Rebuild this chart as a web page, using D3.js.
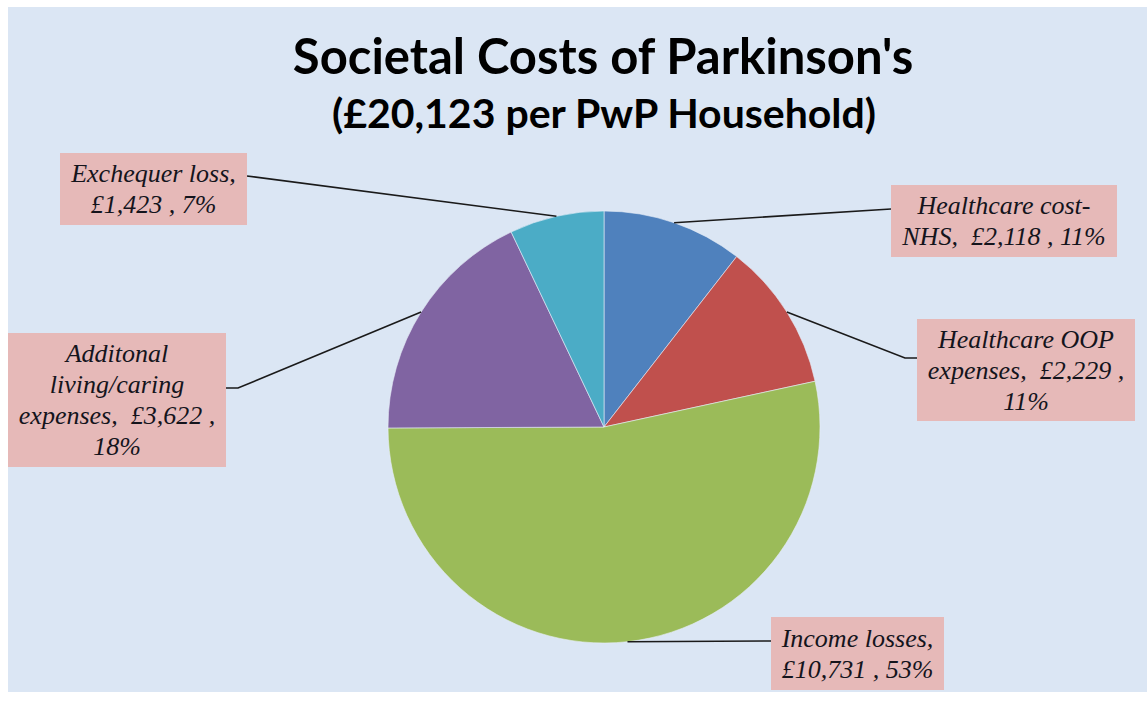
<!DOCTYPE html>
<html>
<head>
<meta charset="utf-8">
<script src="https://cdn.jsdelivr.net/npm/d3@7"></script>
<style>
  body { margin: 0; background: #fff; }
  .title { font-family: Lato, "Open Sans", sans-serif; font-weight: 700; fill: #000; }
  .lbl { font-family: "Liberation Serif", serif; font-style: italic; fill: #14141c; }
</style>
</head>
<body>
<div id="chart"></div>
<script>
  // data
  const categories = ["Healthcare cost-NHS", "Healthcare OOP expenses", "Income losses",
    "Additonal living/caring expenses", "Exchequer loss"];
  const values = [2118, 2229, 10731, 3622, 1423];
  const percents = ["11%", "11%", "53%", "18%", "7%"];
  // label text as it wraps in the original
  const labelLines = [
    ["Healthcare cost-", "NHS,  £2,118 , 11%"],
    ["Healthcare OOP", "expenses,  £2,229 ,", "11%"],
    ["Income losses,", "£10,731 , 53%"],
    ["Additonal", "living/caring", "expenses,  £3,622 ,", "18%"],
    ["Exchequer loss,", "£1,423 , 7%"]
  ];
  const colors = ["#4f81bd", "#c0504d", "#9bbb59", "#8064a2", "#4bacc6"];

  const width = 1147, height = 702;
  const cx = 604, cy = 427, radius = 216;

  // label box layout: x, y, w, h, and where the leader meets the box
  const boxes = [
    { x: 891, y: 185, w: 226, h: 72, ex: 891, ey: 209, elbow: null },
    { x: 917, y: 319, w: 218, h: 102, ex: 917, ey: 358, elbow: 905 },
    { x: 771, y: 617, w: 173, h: 73, ex: 771, ey: 641, elbow: null },
    { x: 8, y: 333, w: 218, h: 134, ex: 226, ey: 388, elbow: 238 },
    { x: 60, y: 153, w: 187, h: 72, ex: 247, ey: 176, elbow: null }
  ];

  const svg = d3.select("#chart")
    .append("svg")
    .attr("width", width)
    .attr("height", height);

  svg.append("rect")
    .attr("x", 8).attr("y", 7)
    .attr("width", width - 8).attr("height", 685)
    .attr("fill", "#dbe6f4");

  // title
  svg.append("text")
    .attr("class", "title")
    .attr("x", 603).attr("y", 74)
    .attr("text-anchor", "middle")
    .attr("font-size", 49)
    .text("Societal Costs of Parkinson's");
  svg.append("text")
    .attr("class", "title")
    .attr("x", 604).attr("y", 128)
    .attr("text-anchor", "middle")
    .attr("font-size", 41)
    .text("(£20,123 per PwP Household)");

  const data = categories.map((c, i) => ({ name: c, value: values[i], i: i }));

  const pie = d3.pie().sort(null).value(d => d.value);
  const arcs = pie(data);
  const arc = d3.arc().innerRadius(0).outerRadius(radius);

  const g = svg.append("g").attr("transform", `translate(${cx},${cy})`);

  g.selectAll("path.slice")
    .data(arcs)
    .join("path")
    .attr("class", "slice")
    .attr("d", arc)
    .attr("fill", d => colors[d.data.i])
    .attr("stroke", "#e8eef8")
    .attr("stroke-width", 0.6);

  // leader lines, starting at the mid-angle on the outer edge
  arcs.forEach((a, i) => {
    const mid = (a.startAngle + a.endAngle) / 2;
    const sx = cx + radius * Math.sin(mid);
    const sy = cy - radius * Math.cos(mid);
    const b = boxes[i];
    const pts = [[sx, sy]];
    if (b.elbow !== null) pts.push([b.elbow, b.ey]);
    pts.push([b.ex, b.ey]);
    svg.append("path")
      .attr("d", d3.line()(pts))
      .attr("fill", "none")
      .attr("stroke", "#1a1a1a")
      .attr("stroke-width", 1.6);
  });

  // label boxes
  const lg = svg.selectAll("g.label")
    .data(arcs)
    .join("g")
    .attr("class", "label");

  lg.append("rect")
    .attr("x", (d, i) => boxes[i].x)
    .attr("y", (d, i) => boxes[i].y)
    .attr("width", (d, i) => boxes[i].w)
    .attr("height", (d, i) => boxes[i].h)
    .attr("fill", "#e6b9b8");

  const lineH = 31;
  lg.each(function(d, i) {
    const b = boxes[i];
    const lines = labelLines[i];
    const top = b.y + b.h / 2 - (lines.length * lineH) / 2;
    d3.select(this).selectAll("text")
      .data(lines)
      .join("text")
      .attr("class", "lbl")
      .attr("x", b.x + b.w / 2)
      .attr("y", (t, j) => top + j * lineH + 24)
      .attr("text-anchor", "middle")
      .attr("font-size", 26)
      .attr("xml:space", "preserve")
      .style("white-space", "pre")
      .text(t => t);
  });
</script>
</body>
</html>
